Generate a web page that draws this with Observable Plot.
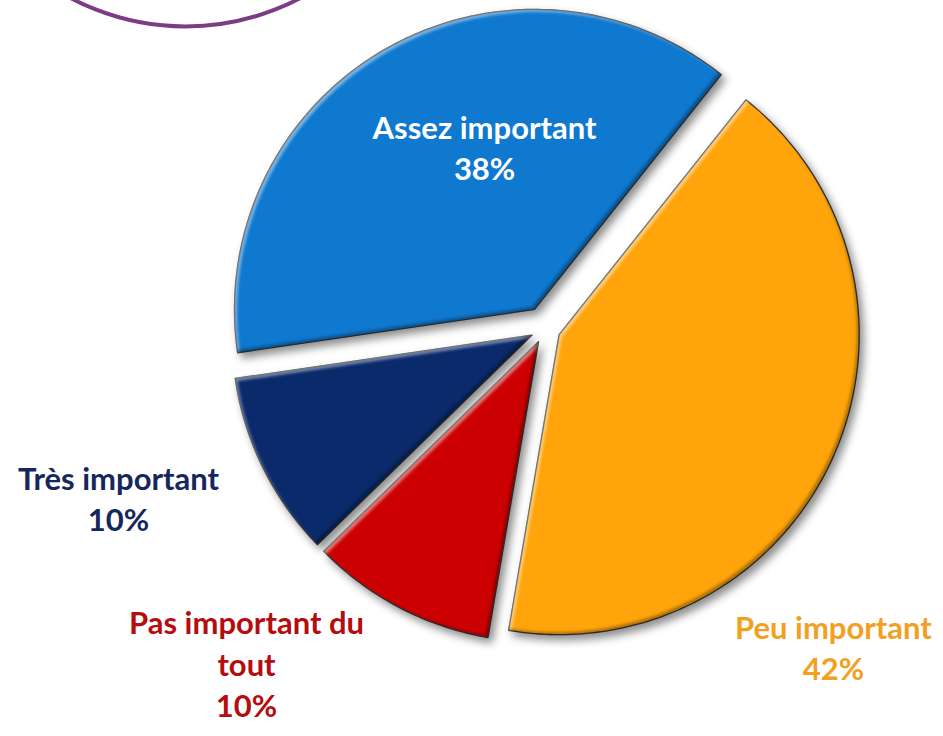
<!DOCTYPE html>
<html><head><meta charset="utf-8">
<script src="https://cdn.jsdelivr.net/npm/d3@7"></script>
<script src="https://cdn.jsdelivr.net/npm/@observablehq/plot@0.6"></script>
<style>html,body{margin:0;padding:0;background:#fff;overflow:hidden}</style>
</head><body><div id="chart"></div>
<script>
// ---- data ----
const categories = ["Peu important", "Pas important du tout", "Très important", "Assez important"];
const percents = [42, 10, 10, 38];
const displayNames = ["Peu important", "Pas important du\ntout", "Très important", "Assez important"];

// ---- styles ----
const sliceColors = ["#ffa40a", "#cc0000", "#0b2a6b", "#0f78cf"];
const labelColors = ["#f2a022", "#b50d0d", "#16275c", "#ffffff"];

// ---- layout ----
const W = 943, H = 736, CX = 545, CY = 328, R = 300;
const startDeg = 38.5;
const explodePx = [15, 15, 15, 22];
const labelAngle = [138.2, 221.5, 248, 341.1];   // degrees clockwise from 12 o'clock
const labelRadius = [1.44, 1.504, 1.535, 0.627]; // in pie radii
const labelShiftUp = 4; // px

const rad = Math.PI / 180;
const arcs = d3.pie().sort(null)
  .startAngle(startDeg * rad).endAngle(startDeg * rad + 2 * Math.PI)(percents);

const slicePts = [];
arcs.forEach((a, i) => {
  const key = categories[i];
  const mid = (a.startAngle + a.endAngle) / 2;
  const e = explodePx[i] / R;
  const ox = e * Math.sin(mid), oy = e * Math.cos(mid);
  slicePts.push({key, u: ox, v: oy});
  const n = Math.ceil((a.endAngle - a.startAngle) / rad);
  for (let k = 0; k <= n; k++) {
    const t = a.startAngle + (a.endAngle - a.startAngle) * k / n;
    slicePts.push({key, u: ox + Math.sin(t), v: oy + Math.cos(t)});
  }
  slicePts.push({key, u: ox, v: oy});
});

const labels = categories.map((c, i) => ({
  t: displayNames[i] + "\n" + percents[i] + "%",
  u: labelRadius[i] * Math.sin(labelAngle[i] * rad),
  v: labelRadius[i] * Math.cos(labelAngle[i] * rad) + labelShiftUp / R,
  color: labelColors[i]
}));

const textMarks = labels.map(d => Plot.text([d], {
  x: "u", y: "v", text: "t", fill: d.color,
  fontSize: 31, fontWeight: "bold", fontFamily: "Lato", lineHeight: 1.33
}));

const svg = Plot.plot({
  width: W, height: H,
  marginTop: 0, marginRight: 0, marginBottom: 0, marginLeft: 0,
  style: {background: "#fff", fontFamily: "Lato"},
  x: {domain: [-CX / R, (W - CX) / R], axis: null},
  y: {domain: [(CY - H) / R, CY / R], axis: null},
  color: {domain: categories, range: sliceColors},
  marks: [
    Plot.dot([{u: (185 - CX) / R, v: (CY + 220) / R}], {
      x: "u", y: "v", r: 246, stroke: "#7b3c84", strokeWidth: 4, fill: "none"
    }),
    Plot.line(slicePts, {
      x: "u", y: "v", z: "key", fill: "key", stroke: "#333333", strokeWidth: 1.3, curve: "linear"
    }),
    ...textMarks
  ]
});

const defs = d3.select(svg).insert("defs", ":first-child");
defs.html(`
<filter id="bevel" x="-10%" y="-10%" width="125%" height="125%" color-interpolation-filters="sRGB">
  <feOffset in="SourceAlpha" dx="3" dy="3" result="offA"/>
  <feComposite in="SourceAlpha" in2="offA" operator="out" result="hiEdge"/>
  <feGaussianBlur in="hiEdge" stdDeviation="1.5" result="hiBlur"/>
  <feFlood flood-color="#ffffff" flood-opacity="0.5" result="hiCol"/>
  <feComposite in="hiCol" in2="hiBlur" operator="in" result="hi"/>
  <feComposite in="hi" in2="SourceAlpha" operator="in" result="hi2"/>
  <feOffset in="SourceAlpha" dx="-3" dy="-3" result="offB"/>
  <feComposite in="SourceAlpha" in2="offB" operator="out" result="loEdge"/>
  <feGaussianBlur in="loEdge" stdDeviation="1.5" result="loBlur"/>
  <feFlood flood-color="#000000" flood-opacity="0.35" result="loCol"/>
  <feComposite in="loCol" in2="loBlur" operator="in" result="lo"/>
  <feComposite in="lo" in2="SourceAlpha" operator="in" result="lo2"/>
  <feGaussianBlur in="SourceAlpha" stdDeviation="4" result="sb"/>
  <feOffset in="sb" dx="4" dy="5" result="so"/>
  <feFlood flood-color="#000000" flood-opacity="0.45" result="sCol"/>
  <feComposite in="sCol" in2="so" operator="in" result="shadow"/>
  <feMerge>
    <feMergeNode in="shadow"/>
    <feMergeNode in="SourceGraphic"/>
    <feMergeNode in="hi2"/>
    <feMergeNode in="lo2"/>
  </feMerge>
</filter>`);
d3.select(svg).select('g[aria-label="line"]').attr("filter", "url(#bevel)");

document.getElementById("chart").appendChild(svg);
</script>
</body></html>
